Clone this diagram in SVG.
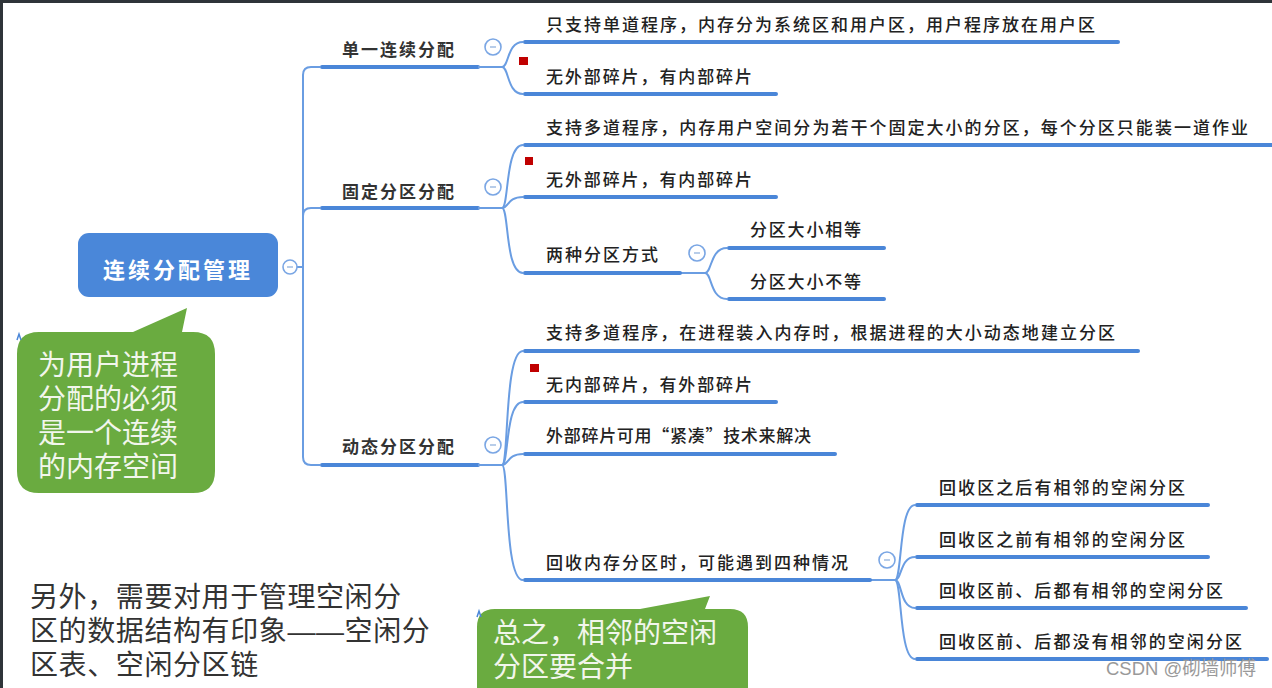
<svg xmlns="http://www.w3.org/2000/svg" width="1272" height="688" viewBox="0 0 1272 688">
<style>
.bg{fill:#ffffff}
.frame{fill:#2f3439}
.ul{stroke:#4a86d8;stroke-width:4;stroke-linecap:round;fill:none}
.cn{stroke:#6a9de2;stroke-width:2;fill:none}
.tog{fill:#ffffff;stroke:#7aa6e4;stroke-width:1.6}
.togm{stroke:#9ab8e0;stroke-width:1.4}
.l1{font-family:"Noto Sans CJK SC","Noto Sans",sans-serif;font-size:17px;font-weight:bold;fill:#333333}
.l2{font-family:"Noto Sans CJK SC","Noto Sans",sans-serif;font-size:17px;font-weight:500;fill:#222222}
.flag{fill:#c00000}
.note{font-family:"Liberation Sans","Noto Sans CJK SC",sans-serif;font-size:28px;fill:#f2f6ec}
.side{font-family:"Liberation Sans","Noto Sans CJK SC",sans-serif;font-size:28px;fill:#333333;letter-spacing:0.6px}
.wm{font-family:"Liberation Sans","Noto Sans CJK SC",sans-serif;font-size:19px;fill:#999999}
.green{fill:#6aab40}
</style>
<rect class="bg" x="0" y="0" width="1272" height="688"/>
<rect class="frame" x="0" y="0" width="1272" height="3"/>
<rect class="frame" x="0" y="0" width="3" height="688"/>

<g id="connectors">
  <path class="cn" d="M297,267 H303"/>
  <path class="cn" d="M320,67 H311 Q303,67 303,75 V457 Q303,465 311,465 H320"/>
  <path class="cn" d="M303,216 Q303,208 311,208 H320"/>
  <line class="ul" x1="322" y1="67" x2="478" y2="67"/>
  <line class="ul" x1="322" y1="208" x2="478" y2="208"/>
  <line class="ul" x1="322" y1="465" x2="478" y2="465"/>
  <path class="cn" d="M478,67 H502 C509,67 507,42 523,42"/>
  <path class="cn" d="M502,67 C509,67 507,94 523,94"/>
  <path class="cn" d="M478,208 H502 C509,208 505,145 523,145"/>
  <path class="cn" d="M502,208 C509,208 507,197 523,197"/>
  <path class="cn" d="M502,208 C509,208 505,273 523,273"/>
  <path class="cn" d="M680,273 H705 C712,273 710,248 727,248"/>
  <path class="cn" d="M705,273 C712,273 710,299 727,299"/>
  <path class="cn" d="M478,465 H502 C509,465 504,351 523,351"/>
  <path class="cn" d="M502,465 C509,465 505,402 523,402"/>
  <path class="cn" d="M502,465 C509,465 507,454 523,454"/>
  <path class="cn" d="M502,465 C509,465 504,580 523,580"/>
  <path class="cn" d="M870,580 H895 C902,580 899,505 915,505"/>
  <path class="cn" d="M895,580 C902,580 900,557 915,557"/>
  <path class="cn" d="M895,580 C902,580 900,608 915,608"/>
  <path class="cn" d="M895,580 C902,580 899,659 915,659"/>
  <line class="ul" x1="525" y1="42" x2="1118" y2="42"/>
  <line class="ul" x1="525" y1="94" x2="776" y2="94"/>
  <line class="ul" x1="525" y1="145" x2="1274" y2="145"/>
  <line class="ul" x1="525" y1="197" x2="776" y2="197"/>
  <line class="ul" x1="525" y1="273" x2="680" y2="273"/>
  <line class="ul" x1="729" y1="248" x2="884" y2="248"/>
  <line class="ul" x1="729" y1="299" x2="884" y2="299"/>
  <line class="ul" x1="525" y1="351" x2="1138" y2="351"/>
  <line class="ul" x1="525" y1="402" x2="776" y2="402"/>
  <line class="ul" x1="525" y1="454" x2="835" y2="454"/>
  <line class="ul" x1="525" y1="580" x2="870" y2="580"/>
  <line class="ul" x1="917" y1="505" x2="1208" y2="505"/>
  <line class="ul" x1="917" y1="557" x2="1208" y2="557"/>
  <line class="ul" x1="917" y1="608" x2="1246" y2="608"/>
  <line class="ul" x1="917" y1="659" x2="1267" y2="659"/>
</g>

<g id="root">
  <rect x="78" y="233" width="200" height="64" rx="11" fill="#4a87d9"/>
  <text x="103" y="278" font-family="Noto Sans CJK SC, Noto Sans, sans-serif" font-size="22" font-weight="bold" fill="#ffffff" textLength="147" lengthAdjust="spacing">连续分配管理</text>
  <circle class="tog" cx="290" cy="267" r="7"/>
  <line class="togm" x1="287" y1="267" x2="293" y2="267"/>
</g>

<g id="n-single">
  <text class="l1" x="342" y="56" textLength="112" lengthAdjust="spacing">单一连续分配</text>
  <circle class="tog" cx="493" cy="47" r="8"/>
  <line class="togm" x1="490" y1="47" x2="496" y2="47"/>
</g>
<g id="n-single-1"><text class="l2" x="546" y="31" textLength="549" lengthAdjust="spacing">只支持单道程序，内存分为系统区和用户区，用户程序放在用户区</text></g>
<g id="n-single-2">
  <rect class="flag" x="519" y="57" width="9" height="8"/>
  <text class="l2" x="546" y="83" textLength="206" lengthAdjust="spacing">无外部碎片，有内部碎片</text>
</g>

<g id="n-fixed">
  <text class="l1" x="342" y="198" textLength="112" lengthAdjust="spacing">固定分区分配</text>
  <circle class="tog" cx="493" cy="187" r="8"/>
  <line class="togm" x1="490" y1="187" x2="496" y2="187"/>
</g>
<g id="n-fixed-1"><text class="l2" x="546" y="134" textLength="702" lengthAdjust="spacing">支持多道程序，内存用户空间分为若干个固定大小的分区，每个分区只能装一道作业</text></g>
<g id="n-fixed-2">
  <rect class="flag" x="525" y="157" width="8" height="8"/>
  <text class="l2" x="546" y="186" textLength="206" lengthAdjust="spacing">无外部碎片，有内部碎片</text>
</g>
<g id="n-fixed-3">
  <text class="l2" x="546" y="261" textLength="112" lengthAdjust="spacing">两种分区方式</text>
  <circle class="tog" cx="697" cy="253" r="8"/>
  <line class="togm" x1="694" y1="253" x2="700" y2="253"/>
</g>
<g id="n-fixed-3a"><text class="l2" x="750" y="236" textLength="111" lengthAdjust="spacing">分区大小相等</text></g>
<g id="n-fixed-3b"><text class="l2" x="750" y="288" textLength="111" lengthAdjust="spacing">分区大小不等</text></g>

<g id="n-dynamic">
  <text class="l1" x="342" y="453" textLength="112" lengthAdjust="spacing">动态分区分配</text>
  <circle class="tog" cx="493" cy="445" r="8"/>
  <line class="togm" x1="490" y1="445" x2="496" y2="445"/>
</g>
<g id="n-dyn-1"><text class="l2" x="546" y="339" textLength="569" lengthAdjust="spacing">支持多道程序，在进程装入内存时，根据进程的大小动态地建立分区</text></g>
<g id="n-dyn-2">
  <rect class="flag" x="530" y="364" width="9" height="8"/>
  <text class="l2" x="546" y="391" textLength="206" lengthAdjust="spacing">无内部碎片，有外部碎片</text>
</g>
<g id="n-dyn-3"><text class="l2" x="546" y="442" textLength="265" lengthAdjust="spacing">外部碎片可用“紧凑”技术来解决</text></g>
<g id="n-dyn-4">
  <text class="l2" x="546" y="569" textLength="302" lengthAdjust="spacing">回收内存分区时，可能遇到四种情况</text>
  <circle class="tog" cx="887" cy="560" r="8"/>
  <line class="togm" x1="884" y1="560" x2="890" y2="560"/>
</g>
<g id="n-rec-1"><text class="l2" x="939" y="494" textLength="246" lengthAdjust="spacing">回收区之后有相邻的空闲分区</text></g>
<g id="n-rec-2"><text class="l2" x="939" y="546" textLength="246" lengthAdjust="spacing">回收区之前有相邻的空闲分区</text></g>
<g id="n-rec-3"><text class="l2" x="939" y="597" textLength="284" lengthAdjust="spacing">回收区前、后都有相邻的空闲分区</text></g>
<g id="n-rec-4"><text class="l2" x="939" y="648" textLength="303" lengthAdjust="spacing">回收区前、后都没有相邻的空闲分区</text></g>

<g id="callout-1">
  <path class="green" d="M39,332 H133 L187,308 L182,332 H193 Q215,332 215,354 V471 Q215,493 193,493 H39 Q17,493 17,471 V354 Q17,332 39,332 Z"/>
  <path d="M17,340 L19,334 L21,340" fill="none" stroke="#4a86d8" stroke-width="1.5"/>
  <text class="note" x="38" y="375"><tspan x="38" y="375">为用户进程</tspan><tspan x="38" y="409">分配的必须</tspan><tspan x="38" y="443">是一个连续</tspan><tspan x="38" y="477">的内存空间</tspan></text>
</g>

<g id="callout-2">
  <path class="green" d="M495,609 H640 L710,596 L705,609 H730 Q748,609 748,627 V700 H477 V627 Q477,609 495,609 Z"/>
  <path d="M477,617 L479,611 L481,617" fill="none" stroke="#4a86d8" stroke-width="1.5"/>
  <text class="note" x="493" y="643"><tspan x="493" y="643">总之，相邻的空闲</tspan><tspan x="493" y="677">分区要合并</tspan></text>
</g>

<g id="side-note">
  <text class="side" x="30" y="607"><tspan x="30" y="607">另外，需要对用于管理空闲分</tspan><tspan x="30" y="641">区的数据结构有印象——空闲分</tspan><tspan x="30" y="675">区表、空闲分区链</tspan></text>
</g>

<text class="wm" x="1106" y="675" textLength="150" lengthAdjust="spacingAndGlyphs">CSDN @砌墙师傅</text>
</svg>
